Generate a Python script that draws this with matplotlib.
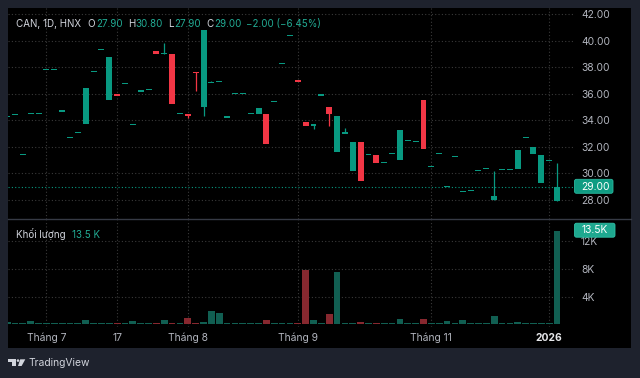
import matplotlib
matplotlib.use('Agg')
import matplotlib.pyplot as plt
from matplotlib.patches import Rectangle, Polygon, Circle, FancyBboxPatch

# ---------------- data ----------------
opens  = [34.3, 34.45, 31.4, 34.5, 34.5, 37.8, 37.8, 34.7, 32.7, 33.1,
          33.7, 37.7, 39.3, 35.5, 36.0, 36.8, 33.7, 36.2, 36.3, 39.2,
          39.0, 39.0, 34.5, 34.5, 37.65, 35.0, 36.85, 36.9, 34.25, 36.0,
          36.0, 34.5, 34.5, 34.5, 35.4, 38.3, 40.4, 37.0, 33.9, 33.65,
          35.9, 35.0, 31.6, 33.05, 30.2, 32.35, 31.4, 31.4, 30.8, 31.5,
          31.0, 32.5, 32.4, 35.5, 30.5, 31.5, 29.0, 31.3, 28.65, 28.7,
          30.2, 30.4, 28.0, 30.3, 30.3, 30.3, 32.7, 31.5, 29.3, 31.0,
          27.9]
closes = [34.3, 34.45, 31.4, 34.5, 34.5, 37.8, 37.8, 34.7, 32.7, 33.1,
          36.4, 37.7, 39.3, 38.8, 35.8, 36.8, 33.7, 36.2, 36.3, 39.0,
          39.0, 35.2, 34.5, 34.3, 37.55, 40.8, 36.85, 36.9, 34.25, 36.0,
          36.0, 34.5, 34.9, 32.2, 35.4, 38.3, 40.4, 36.9, 33.6, 33.65,
          35.9, 34.5, 34.3, 33.05, 32.4, 29.4, 31.4, 30.8, 30.8, 31.5,
          33.3, 32.5, 32.4, 31.85, 30.5, 31.5, 29.0, 31.3, 28.65, 28.7,
          30.2, 30.4, 28.3, 30.3, 30.3, 31.8, 32.7, 32.0, 31.4, 31.0,
          29.0]
# explicit highs / lows where a wick is visible (others = body extremes)
highs_extra = {20: 39.8, 25: 40.8, 26: 36.95, 43: 33.4, 62: 30.2, 70: 30.8}
lows_extra = {23: 34.2, 24: 36.2, 25: 34.35, 39: 33.35, 41: 33.55, 70: 27.9}
volumes_k = [0.4, 0.15, 0.25, 0.5, 0.15, 0.25, 0.15, 0.15, 0.15, 0.15,
             0.6, 0.15, 0.15, 0.15, 0.15, 0.15, 0.5, 0.15, 0.15, 0.25,
             0.6, 0.15, 0.15, 0.85, 0.25, 0.4, 1.9, 1.6, 0.15, 0.15,
             0.15, 0.15, 0.15, 0.6, 0.15, 0.15, 0.15, 0.25, 7.9, 0.6,
             0.15, 1.55, 7.5, 0.25, 0.25, 0.4, 0.15, 0.25, 0.15, 0.15,
             0.7, 0.25, 0.15, 0.7, 0.15, 0.15, 0.5, 0.15, 0.6, 0.15,
             0.15, 0.15, 1.15, 0.15, 0.15, 0.4, 0.15, 0.25, 0.25, 0.15,
             13.5]
tick_idx = [5, 14, 23, 37, 54, 69]
tick_labels = ["Tháng 7", "17", "Tháng 8", "Tháng 9", "Tháng 11", "2026"]
price_ticks = [28, 30, 32, 34, 36, 38, 40, 42]
vol_ticks = [4, 8, 12]
vol_tick_labels = ["4K", "8K", "12K"]
symbol_text = "CAN, 1D, HNX"
volume_title = "Khối lượng"

n = len(opens)
highs = [highs_extra.get(i, max(opens[i], closes[i])) for i in range(n)]
lows = [lows_extra.get(i, min(opens[i], closes[i])) for i in range(n)]

# ---------------- style ----------------
UP = '#089981'
DOWN = '#f23645'
UP_V = '#115f52'
DOWN_V = '#87282f'
TXT = '#b2b5be'
HDR = '#d1d4dc'
VAL = '#22ab94'
GRID = '#3a3a3a'
FONT = ['Inter', 'DejaVu Sans']
FS = 7.4
plt.rcParams['font.family'] = FONT

W, H = 640, 378
fig = plt.figure(figsize=(6.4, 3.78), dpi=100)
fig.patch.set_facecolor('#1e222d')
renderer = fig.canvas.get_renderer()


def axes_px(x0, y0, x1, y1):
    return fig.add_axes([x0 / W, 1 - y1 / H, (x1 - x0) / W, (y1 - y0) / H])


bg = axes_px(0, 0, W, H)
bg.set_xlim(0, W); bg.set_ylim(H, 0); bg.axis('off')
bg.add_patch(Rectangle((8.3, 8.3), 631 - 8.3, 348 - 8.3, color='black', lw=0))

X0, X1 = 8.3, 574
xlim = (0.146, 72.16)

# ---------------- price pane ----------------
ax = axes_px(X0, 8.3, X1, 218.5)
ax.set_facecolor('none')
ax.set_xlim(*xlim)
ax.set_ylim(26.61, 42.43)
ax.set_yticks(price_ticks, [f"{v:.2f}" for v in price_ticks])
ax.set_xticks(tick_idx, [])
ax.yaxis.tick_right()
ax.tick_params(axis='y', length=0, pad=5.0, labelcolor=TXT, labelsize=FS)
ax.tick_params(axis='x', length=0)
ax.grid(True, color=GRID, linestyle=(0, (1, 2)), linewidth=0.8)
for s in ax.spines.values():
    s.set_visible(False)

minh = 0.09
for i in range(n):
    o, c = opens[i], closes[i]
    col = UP if c >= o else DOWN
    if highs[i] > max(o, c) or lows[i] < min(o, c):
        ax.vlines(i, lows[i], highs[i], color=col, lw=0.9, zorder=3)
    bot = min(o, c)
    hgt = abs(c - o)
    if hgt < minh:
        bot = (o + c) / 2 - minh / 2
        hgt = minh
    ax.bar(i, hgt, bottom=bot, width=0.76, color=col, lw=0, zorder=4)

last = closes[-1]
ax.axhline(last, color=UP, linestyle=(0, (1, 2)), lw=0.8, zorder=2)

# ---------------- volume pane ----------------
axv = axes_px(X0, 219.5, X1, 327)
axv.set_facecolor('none')
axv.set_xlim(*xlim)
axv.set_ylim(-0.39, 15.13)
vcols = [UP_V if closes[i] >= opens[i] else DOWN_V for i in range(n)]
axv.bar(range(n), volumes_k, width=0.86, color=vcols, lw=0, zorder=3)
axv.set_yticks(vol_ticks, vol_tick_labels)
axv.yaxis.tick_right()
axv.tick_params(axis='y', length=0, pad=5.0, labelcolor=TXT, labelsize=FS)
axv.set_xticks(tick_idx, tick_labels)
axv.tick_params(axis='x', length=0, pad=4.0, labelcolor=TXT, labelsize=FS)
lab = axv.get_xticklabels()[-1]
lab.set_fontweight('bold'); lab.set_color('#e6e7ea')
axv.grid(True, color=GRID, linestyle=(0, (1, 2)), linewidth=0.8)
for s in axv.spines.values():
    s.set_visible(False)

# ---------------- overlay (header, tags, logo) ----------------
top = axes_px(0, 0, W, H)
top.set_xlim(0, W); top.set_ylim(H, 0); top.axis('off')
top.set_zorder(10)
top.plot([8.3, 631], [218.7, 218.7], color='#363a45', lw=1.0)


def width_px(t):
    return t.get_window_extent(renderer).width


def fit_text(x, y, s, target_w, color, **kw):
    t = top.text(x, y, s, color=color, fontsize=8, ha='left', **kw)
    w = width_px(t)
    t.set_fontsize(8 * target_w / w)
    return t


# header: size fitted so that the symbol text spans ~65 px like the reference
sym = fit_text(15.7, 26.7, symbol_text, 65, HDR, va='baseline')
HFS = sym.get_fontsize()

chg = closes[-1] - closes[-2]
pct = chg / closes[-2] * 100
groups = [("O", f"{opens[-1]:.2f}", 87.7), ("H", f"{highs[-1]:.2f}", 127.7),
          ("L", f"{lows[-1]:.2f}", 168.3), ("C", f"{closes[-1]:.2f}", 206.0)]
for letter, val, x in groups:
    t = top.text(x, 26.7, letter, color=HDR, fontsize=HFS, va='baseline', ha='left')
    top.text(x + width_px(t) + 0.6, 26.7, val, color=VAL, fontsize=HFS,
             va='baseline', ha='left')
top.text(246, 26.7, f"{chg:+.2f} ({pct:+.2f}%)".replace('-', '\u2212'), color=VAL,
         fontsize=HFS, va='baseline', ha='left')

vt = top.text(15.7, 238.4, volume_title, color=HDR, fontsize=HFS, va='baseline', ha='left')
top.text(15.7 + width_px(vt) + 6.5, 238.4, f"{volumes_k[-1]:.1f} K", color=VAL,
         fontsize=HFS, va='baseline', ha='left')

# price tag & volume tag
top.add_patch(FancyBboxPatch((574.5, 179.3), 38.5, 14, boxstyle="round,pad=0,rounding_size=2",
                             fc='#0f9c83', ec='#2bb89f', lw=0.6))
top.text(581.7, 186.6, f"{last:.2f}", color='white', fontsize=FS, va='center', ha='left')
top.add_patch(FancyBboxPatch((574.5, 223.2), 40.5, 14, boxstyle="round,pad=0,rounding_size=2",
                             fc='#1ea88f', ec='#2fc0a6', lw=0.6))
top.text(581.7, 230.4, f"{volumes_k[-1]:.1f}K", color='white', fontsize=FS, va='center', ha='left')

# TradingView logo
logo_col = '#d1d4dc'
top.add_patch(Polygon([(8.2, 359.3), (15.6, 359.3), (15.6, 366), (12.2, 366), (12.2, 361.9),
                       (8.2, 361.9)], closed=True, color=logo_col, lw=0))
top.add_patch(Circle((18.0, 360.6), 1.3, color=logo_col, lw=0))
top.add_patch(Polygon([(20.2, 359.3), (25.3, 359.3), (21.6, 366), (18.0, 366)],
                      closed=True, color=logo_col, lw=0))
fit_text(28.6, 363.0, "TradingView", 62, logo_col, va='center')

fig.savefig('out.png', dpi=100, facecolor=fig.get_facecolor())
